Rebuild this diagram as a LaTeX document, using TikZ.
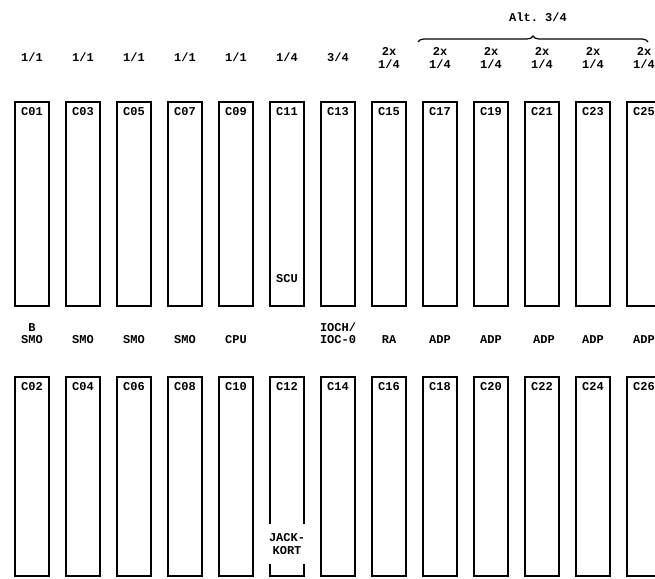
\documentclass[tikz,border=0pt]{standalone}
\usepackage{fontspec}
\setmonofont{Liberation Mono}
\usetikzlibrary{decorations.pathreplacing}

\begin{document}
\begin{tikzpicture}[
    x=1pt, y=-1pt,
    every node/.style={font=\ttfamily\bfseries\fontsize{12}{12.5}\selectfont},
    slot/.style={draw, line width=1.6pt, minimum width=34pt, inner sep=0pt},
    upper/.style={slot, minimum height=204pt},
    lower/.style={slot, minimum height=199pt},
    slotname/.style={anchor=north, inner sep=1pt, yshift=-5pt},
    share/.style={align=center, inner sep=0pt},
    unit/.style={align=center, anchor=south, inner sep=0pt}
  ]
    \useasboundingbox (0,0) rectangle (655,578);

    % card slots, upper and lower row
    \foreach \x/\t/\b in {32/01/02, 83/03/04, 134/05/06, 185/07/08, 236/09/10, 287/11/12, 338/13/14,
                          389/15/16, 440/17/18, 491/19/20, 542/21/22, 593/23/24, 644/25/26} {
      \node[upper] (c\t) at (\x,204) {};
      \node[slotname] (n\t) at (c\t.north) {C\t};
      \node[lower] (c\b) at (\x,476.5) {};
      \node[slotname] (n\b) at (c\b.north) {C\b};
    }

    % share of each slot
    \node[share] (s1) at (32,57) {1/1};
    \node[share] (s2) at (83,57) {1/1};
    \node[share] (s3) at (134,57) {1/1};
    \node[share] (s4) at (185,57) {1/1};
    \node[share] (s5) at (236,57) {1/1};
    \node[share] (s6) at (287,57) {1/4};
    \node[share] (s7) at (338,57) {3/4};
    \node[share] (s8) at (389,58) {2x\\1/4};
    \node[share] (s9) at (440,58) {2x\\1/4};
    \node[share] (s10) at (491,58) {2x\\1/4};
    \node[share] (s11) at (542,58) {2x\\1/4};
    \node[share] (s12) at (593,58) {2x\\1/4};
    \node[share] (s13) at (644,58) {2x\\1/4};

    % alternative
    \coordinate (altl) at (418,42);
    \coordinate (altr) at (648,42);
    \draw[line width=1.2pt, decorate, decoration={brace, amplitude=6pt}] (altl) -- (altr);
    \node (alt) at (538,17) {Alt. 3/4};

    % units between the rows
    \node[unit] (u1) at (32,344) {B\\SMO};
    \node[unit] (u2) at (83,344) {SMO};
    \node[unit] (u3) at (134,344) {SMO};
    \node[unit] (u4) at (185,344) {SMO};
    \node[unit] (u5) at (236,344) {CPU};
    \node[unit] (u7) at (338,344) {IOCH/\\IOC-0};
    \node[unit] (u8) at (389,344) {RA};
    \node[unit] (u9) at (440,344) {ADP};
    \node[unit] (u10) at (491,344) {ADP};
    \node[unit] (u11) at (544,344) {ADP};
    \node[unit] (u12) at (593,344) {ADP};
    \node[unit] (u13) at (644,344) {ADP};

    \node (scu) at (287,279) {SCU};
    \node[fill=white, align=center, inner sep=1pt, minimum width=38pt, minimum height=40pt] (jack) at (287,544) {JACK-\\KORT};
  \end{tikzpicture}
\end{document}
